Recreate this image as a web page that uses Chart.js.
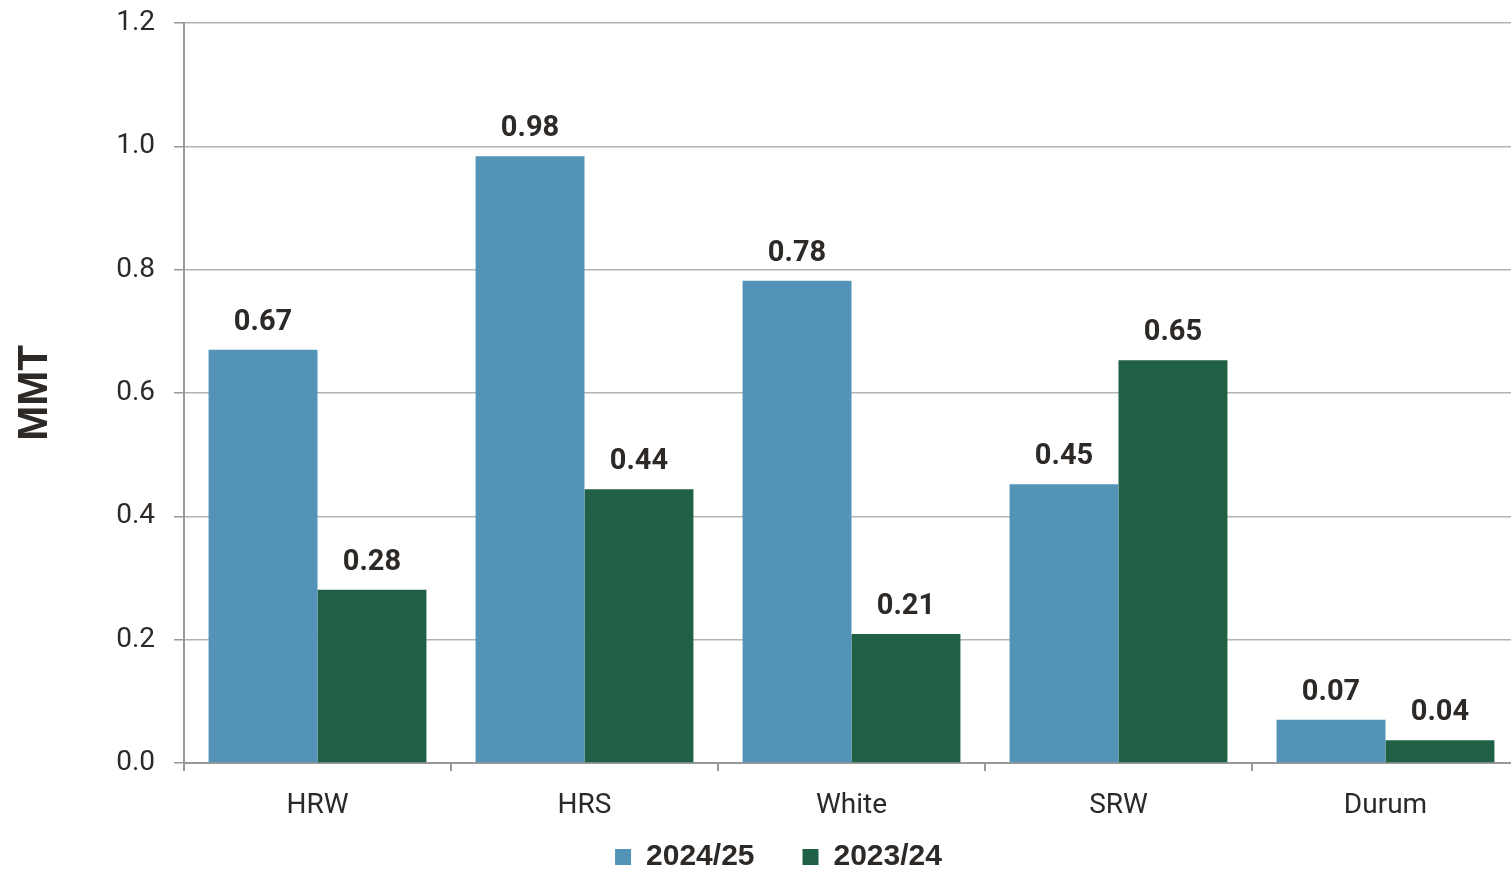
<!DOCTYPE html>
<html lang="en">
<head>
    <meta charset="UTF-8">
    <title>Wheat MMT</title>
    <style>
        html, body { margin: 0; padding: 0; background: #ffffff; }
        .wrap { width: 1511px; height: 873px; }
    </style>
</head>
<body>
    <div class="wrap"><canvas id="chart"></canvas></div>

    <script src="https://cdn.jsdelivr.net/npm/chart.js"></script>
    <script>
        const categories = ['HRW', 'HRS', 'White', 'SRW', 'Durum'];
        const seriesNames = ['2024/25', '2023/24'];
        const values2425 = [0.670, 0.984, 0.782, 0.452, 0.070];
        const values2324 = [0.281, 0.444, 0.209, 0.653, 0.037];
        const yTitle = 'MMT';

        const textColor = '#2d2926';
        const axisGray = '#999999';

        // value labels above each bar
        const barLabels = {
            id: 'barLabels',
            afterDatasetsDraw(chart) {
                const ctx = chart.ctx;
                ctx.save();
                ctx.font = 'bold 29px Roboto';
                ctx.fillStyle = textColor;
                ctx.textAlign = 'center';
                ctx.textBaseline = 'alphabetic';
                chart.data.datasets.forEach((ds, i) => {
                    chart.getDatasetMeta(i).data.forEach((bar, j) => {
                        ctx.fillText(ds.data[j].toFixed(2), bar.x, bar.y - 20);
                    });
                });
                ctx.restore();
            }
        };

        // the original plot runs a little past the right edge,
        // and its legend sits a bit right and up
        const layoutTweaks = {
            id: 'layoutTweaks',
            afterLayout(chart) {
                const extra = 8;
                const x = chart.scales.x;
                x.right += extra;
                x.width += extra;
                x.configure();
                chart.chartArea.right += extra;
                chart.chartArea.width += extra;

                const lg = chart.legend;
                lg.left += 23;
                lg.right += 23;
                lg.top -= 29;
                lg.height += 29;
            }
        };

        new Chart(document.getElementById('chart'), {
            type: 'bar',
            data: {
                labels: categories,
                datasets: [
                    {
                        label: seriesNames[0],
                        data: values2425,
                        backgroundColor: '#5393b8',
                        categoryPercentage: 0.816,
                        barPercentage: 1.0
                    },
                    {
                        label: seriesNames[1],
                        data: values2324,
                        backgroundColor: '#206045',
                        categoryPercentage: 0.816,
                        barPercentage: 1.0
                    }
                ]
            },
            options: {
                responsive: true,
                maintainAspectRatio: false,
                animation: false,
                layout: { padding: { top: 23, right: 0, bottom: 0, left: 0 } },
                scales: {
                    x: {
                        afterFit(scale) { scale.height = 60; },
                        grid: {
                            display: true,
                            drawOnChartArea: false,
                            drawTicks: true,
                            tickLength: 8,
                            color: axisGray,
                            lineWidth: 2
                        },
                        border: { color: axisGray, width: 2 },
                        ticks: {
                            color: textColor,
                            font: { family: 'Roboto', size: 28 },
                            padding: 18
                        }
                    },
                    y: {
                        min: 0,
                        max: 1.2,
                        afterFit(scale) {
                            scale.width = 184;
                            scale.paddingTop = 0;
                            scale.paddingBottom = 0;
                        },
                        grid: {
                            color: '#b3b3b3',
                            lineWidth: 1.5,
                            tickLength: 10,
                            tickColor: axisGray
                        },
                        border: { color: axisGray, width: 2 },
                        ticks: {
                            stepSize: 0.2,
                            color: textColor,
                            font: { family: 'Roboto', size: 28 },
                            padding: 19,
                            callback: (v) => Number(v).toFixed(1)
                        },
                        title: {
                            display: true,
                            text: yTitle,
                            color: textColor,
                            font: { family: 'Liberation Sans', size: 42, weight: 'bold' },
                            padding: { top: 10, bottom: 0 }
                        }
                    }
                },
                plugins: {
                    legend: {
                        display: true,
                        position: 'bottom',
                        maxHeight: 50,
                        labels: {
                            boxWidth: 16,
                            boxHeight: 16,
                            padding: 48,
                            color: textColor,
                            font: { family: 'Liberation Sans', size: 30, weight: 'bold' }
                        }
                    },
                    tooltip: { enabled: false }
                }
            },
            plugins: [barLabels, layoutTweaks]
        });
    </script>
</body>
</html>
